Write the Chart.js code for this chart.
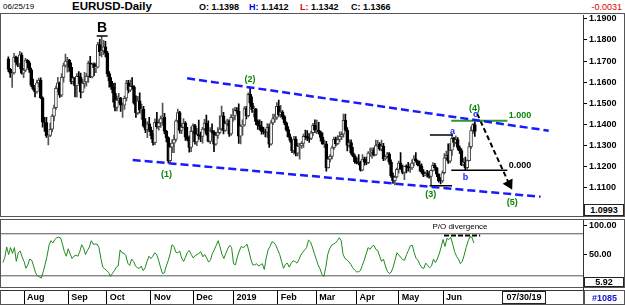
<!DOCTYPE html>
<html>
<head>
<meta charset="utf-8">
<script src="https://cdn.jsdelivr.net/npm/chart.js@4/dist/chart.umd.min.js"></script>
<style>
  body { margin: 0; background: #fff; font-family: "Liberation Sans", Arial, sans-serif; }
  #wrap { position: relative; width: 625px; height: 305px; overflow: hidden; }
  .hdr { position: absolute; top: 1px; font-size: 9px; font-weight: bold; line-height: 12px; white-space: nowrap; color: #000; }
  .frame { position: absolute; border: 1px solid #555; box-sizing: border-box; }
  .box { position: absolute; border: 1px solid #222; box-sizing: border-box; background: #fff;
         font-size: 9px; font-weight: bold; text-align: center; line-height: 10px; }
  canvas { position: absolute; left: 0; }
</style>
</head>
<body>
<div id="wrap">
  <div class="hdr" style="left:3px;font-weight:normal;font-size:8px">06/25/19</div>
  <div class="hdr" style="left:72px;top:0;font-size:11.5px;line-height:13px">EURUSD-Daily</div>
  <div class="hdr" style="left:199px">O: 1.1398</div>
  <div class="hdr" style="left:249px"><span style="color:#0000e0">H:</span> 1.1412</div>
  <div class="hdr" style="left:300px"><span style="color:#e00000">L:</span> 1.1342</div>
  <div class="hdr" style="left:351px">C: 1.1366</div>
  <div class="hdr" style="right:3px;color:#e00000;font-weight:normal">-0.0031</div>

  <div class="frame" style="left:0;top:13px;width:625px;height:204px"></div>
  <div class="frame" style="left:0;top:219px;width:625px;height:69px"></div>
  <div class="frame" style="left:0;top:290px;width:625px;height:15px"></div>
  <div class="frame" style="left:583px;top:290px;width:1px;height:15px"></div>

  <canvas id="priceChart" width="625" height="221" style="top:5px"></canvas>
  <canvas id="oscChart" width="625" height="95" style="top:210px"></canvas>

  <div class="box" style="left:584px;top:204px;width:40px;height:12px">1.0993</div>
  <div class="box" style="left:584px;top:277px;width:40px;height:10px;line-height:8px">5.92</div>
  <div class="box" style="left:502px;top:291px;width:44px;height:13px;line-height:11px">07/30/19</div>
  <div class="hdr" style="left:592px;top:292px;color:#1010d0">#1085</div>
</div>

<script>
// daily bars, 17 Jul 2018 .. 25 Jun 2019 (index 0 .. 245)
const opens = [
  1.1711,1.1660,1.1641,1.1643,1.1719,1.1693,1.1686,1.1730,1.1642,1.1657,1.1704,
  1.1691,1.1658,1.1585,1.1567,1.1553,1.1596,1.1610,1.1525,1.1410,1.1408,1.1344,1.1346,1.1376,1.1438,1.1478,1.1570,1.1597,1.1538,1.1622,1.1679,1.1700,1.1705,1.1670,
  1.1602,1.1620,1.1583,1.1627,1.1624,1.1552,1.1594,1.1601,1.1627,1.1690,1.1625,1.1685,1.1667,1.1671,1.1778,1.1745,1.1748,1.1767,1.1738,1.1640,
  1.1604,1.1577,1.1547,1.1479,1.1514,1.1524,1.1490,1.1490,1.1523,1.1595,1.1561,1.1580,1.1577,1.1500,1.1453,1.1511,1.1466,1.1471,1.1392,1.1373,1.1402,1.1371,1.1344,
  1.1312,1.1409,1.1388,1.1406,1.1427,1.1434,1.1366,1.1336,1.1226,1.1291,1.1310,1.1327,1.1416,1.1455,1.1370,1.1385,1.1405,1.1338,1.1328,1.1290,1.1366,1.1393,
  1.1315,1.1350,1.1344,1.1342,1.1377,1.1405,1.1354,1.1318,1.1369,1.1361,1.1305,1.1347,1.1360,1.1377,1.1440,1.1370,1.1403,1.1416,1.1354,1.1432,1.1439,
  1.1466,1.1462,1.1343,1.1391,1.1395,1.1474,1.1440,1.1542,1.1500,1.1469,1.1471,1.1413,1.1394,1.1389,1.1365,1.1364,1.1362,1.1385,1.1305,1.1406,1.1427,1.1432,1.1485,
  1.1445,1.1457,1.1436,1.1406,1.1374,1.1340,1.1323,1.1274,1.1328,1.1262,1.1295,1.1296,1.1309,1.1342,1.1341,1.1336,1.1332,1.1359,1.1395,1.1371,
  1.1372,1.1364,1.1337,1.1306,1.1306,1.1193,1.1234,1.1247,1.1288,1.1328,1.1307,1.1327,1.1342,1.1352,1.1418,1.1372,1.1299,1.1313,1.1264,1.1248,1.1222,
  1.1217,1.1215,1.1181,1.1234,1.1219,1.1217,1.1262,1.1265,1.1275,1.1254,1.1298,1.1304,1.1281,1.1296,1.1235,1.1245,1.1259,1.1220,1.1154,1.1131,1.1149,1.1185,
  1.1215,1.1189,1.1171,1.1201,1.1198,1.1192,1.1192,1.1215,1.1235,1.1224,1.1206,1.1202,1.1174,1.1157,1.1165,1.1161,1.1152,1.1180,1.1204,1.1192,1.1162,1.1131,1.1130,
  1.1169,1.1240,1.1252,1.1224,1.1276,1.1333,1.1313,1.1327,1.1289,1.1274,1.1208,1.1219,1.1193,1.1227,1.1293,1.1370,1.1398
];
const highs = [
  1.1720,1.1665,1.1647,1.1737,1.1723,1.1719,1.1746,1.1739,1.1665,1.1713,1.1707,
  1.1700,1.1666,1.1614,1.1572,1.1609,1.1619,1.1620,1.1530,1.1433,1.1432,1.1349,1.1405,1.1445,1.1491,1.1581,1.1623,1.1600,1.1640,1.1690,1.1733,1.1718,1.1708,1.1691,
  1.1626,1.1621,1.1640,1.1650,1.1643,1.1613,1.1646,1.1641,1.1700,1.1722,1.1690,1.1692,1.1690,1.1789,1.1803,1.1815,1.1798,1.1794,1.1746,1.1650,
  1.1621,1.1594,1.1595,1.1535,1.1547,1.1528,1.1500,1.1534,1.1608,1.1608,1.1609,1.1621,1.1583,1.1535,1.1532,1.1549,1.1496,1.1485,1.1426,1.1412,1.1433,1.1386,1.1357,
  1.1425,1.1456,1.1422,1.1440,1.1500,1.1451,1.1371,1.1340,1.1309,1.1327,1.1348,1.1421,1.1472,1.1461,1.1403,1.1427,1.1412,1.1385,1.1344,1.1387,1.1402,1.1399,
  1.1380,1.1419,1.1362,1.1385,1.1423,1.1443,1.1416,1.1384,1.1402,1.1370,1.1362,1.1384,1.1440,1.1486,1.1456,1.1415,1.1424,1.1421,1.1446,1.1474,1.1480,
  1.1479,1.1497,1.1397,1.1420,1.1484,1.1485,1.1549,1.1570,1.1530,1.1486,1.1475,1.1420,1.1420,1.1414,1.1385,1.1377,1.1403,1.1400,1.1417,1.1448,1.1448,1.1502,1.1514,
  1.1489,1.1465,1.1441,1.1411,1.1388,1.1353,1.1325,1.1342,1.1341,1.1310,1.1309,1.1317,1.1353,1.1372,1.1370,1.1355,1.1367,1.1404,1.1420,1.1419,
  1.1409,1.1367,1.1359,1.1324,1.1318,1.1246,1.1256,1.1296,1.1339,1.1338,1.1346,1.1363,1.1364,1.1448,1.1448,1.1384,1.1325,1.1326,1.1290,1.1256,1.1240,
  1.1255,1.1224,1.1255,1.1244,1.1243,1.1270,1.1286,1.1287,1.1288,1.1324,1.1323,1.1313,1.1324,1.1309,1.1250,1.1266,1.1265,1.1230,1.1169,1.1153,1.1191,1.1224,
  1.1265,1.1206,1.1201,1.1207,1.1219,1.1212,1.1230,1.1251,1.1265,1.1228,1.1225,1.1212,1.1184,1.1173,1.1180,1.1176,1.1183,1.1217,1.1214,1.1195,1.1164,1.1146,1.1178,
  1.1260,1.1272,1.1306,1.1309,1.1348,1.1337,1.1345,1.1336,1.1297,1.1283,1.1237,1.1244,1.1230,1.1313,1.1387,1.1403,1.1412
];
const lows = [
  1.1650,1.1622,1.1575,1.1637,1.1680,1.1673,1.1663,1.1637,1.1621,1.1649,1.1667,
  1.1646,1.1578,1.1562,1.1530,1.1547,1.1578,1.1521,1.1386,1.1365,1.1337,1.1301,1.1341,1.1363,1.1417,1.1470,1.1552,1.1527,1.1531,1.1600,1.1671,1.1647,1.1651,1.1591,
  1.1590,1.1530,1.1528,1.1592,1.1525,1.1550,1.1571,1.1581,1.1598,1.1621,1.1620,1.1631,1.1645,1.1667,1.1726,1.1720,1.1730,1.1720,1.1627,1.1576,
  1.1565,1.1504,1.1463,1.1463,1.1500,1.1460,1.1432,1.1470,1.1510,1.1548,1.1555,1.1567,1.1495,1.1432,1.1446,1.1452,1.1422,1.1386,1.1360,1.1336,1.1364,1.1330,1.1300,
  1.1303,1.1380,1.1372,1.1385,1.1394,1.1354,1.1316,1.1216,1.1220,1.1265,1.1265,1.1318,1.1406,1.1357,1.1355,1.1382,1.1323,1.1320,1.1267,1.1269,1.1355,1.1305,
  1.1298,1.1328,1.1317,1.1310,1.1368,1.1348,1.1316,1.1307,1.1355,1.1269,1.1300,1.1332,1.1354,1.1370,1.1354,1.1365,1.1393,1.1342,1.1347,1.1413,1.1420,
  1.1450,1.1309,1.1306,1.1348,1.1390,1.1425,1.1434,1.1483,1.1456,1.1434,1.1398,1.1375,1.1372,1.1353,1.1352,1.1339,1.1337,1.1289,1.1300,1.1398,1.1410,1.1422,1.1437,
  1.1432,1.1424,1.1397,1.1367,1.1338,1.1314,1.1264,1.1257,1.1249,1.1249,1.1234,1.1285,1.1289,1.1327,1.1322,1.1313,1.1326,1.1346,1.1360,1.1355,
  1.1352,1.1319,1.1304,1.1288,1.1176,1.1191,1.1220,1.1235,1.1280,1.1296,1.1302,1.1315,1.1326,1.1338,1.1367,1.1273,1.1289,1.1256,1.1244,1.1213,1.1211,
  1.1206,1.1176,1.1179,1.1205,1.1207,1.1212,1.1247,1.1238,1.1249,1.1251,1.1293,1.1275,1.1273,1.1226,1.1229,1.1241,1.1210,1.1147,1.1118,1.1111,1.1145,1.1167,
  1.1185,1.1164,1.1136,1.1168,1.1177,1.1171,1.1185,1.1201,1.1221,1.1201,1.1177,1.1166,1.1151,1.1154,1.1148,1.1143,1.1107,1.1176,1.1181,1.1151,1.1124,1.1116,1.1123,
  1.1163,1.1230,1.1213,1.1216,1.1252,1.1294,1.1306,1.1278,1.1261,1.1203,1.1201,1.1181,1.1187,1.1225,1.1283,1.1355,1.1342
];
const closes = [
  1.1660,1.1641,1.1643,1.1719,1.1693,1.1686,1.1730,1.1642,1.1657,1.1704,1.1691,
  1.1658,1.1585,1.1567,1.1553,1.1596,1.1610,1.1525,1.1410,1.1408,1.1344,1.1346,1.1376,1.1438,1.1478,1.1570,1.1597,1.1538,1.1622,1.1679,1.1700,1.1705,1.1670,1.1602,
  1.1620,1.1583,1.1627,1.1624,1.1552,1.1594,1.1601,1.1627,1.1690,1.1625,1.1685,1.1667,1.1671,1.1778,1.1745,1.1748,1.1767,1.1738,1.1640,1.1604,
  1.1577,1.1547,1.1479,1.1514,1.1524,1.1490,1.1490,1.1523,1.1595,1.1561,1.1580,1.1577,1.1500,1.1453,1.1511,1.1466,1.1471,1.1392,1.1373,1.1402,1.1371,1.1344,1.1312,
  1.1409,1.1388,1.1406,1.1427,1.1434,1.1366,1.1336,1.1226,1.1291,1.1310,1.1327,1.1416,1.1455,1.1370,1.1385,1.1405,1.1338,1.1328,1.1290,1.1366,1.1393,1.1315,
  1.1350,1.1344,1.1342,1.1377,1.1405,1.1354,1.1318,1.1369,1.1361,1.1305,1.1347,1.1360,1.1377,1.1440,1.1370,1.1403,1.1416,1.1354,1.1432,1.1439,1.1466,
  1.1462,1.1343,1.1391,1.1395,1.1474,1.1440,1.1542,1.1500,1.1469,1.1471,1.1413,1.1394,1.1389,1.1365,1.1364,1.1362,1.1385,1.1305,1.1406,1.1427,1.1432,1.1485,1.1445,
  1.1457,1.1436,1.1406,1.1374,1.1340,1.1323,1.1274,1.1328,1.1262,1.1295,1.1296,1.1309,1.1342,1.1341,1.1336,1.1332,1.1359,1.1395,1.1371,1.1372,
  1.1364,1.1337,1.1306,1.1306,1.1193,1.1234,1.1247,1.1288,1.1328,1.1307,1.1327,1.1342,1.1352,1.1418,1.1372,1.1299,1.1313,1.1264,1.1248,1.1222,1.1217,
  1.1215,1.1181,1.1234,1.1219,1.1217,1.1262,1.1265,1.1275,1.1254,1.1298,1.1304,1.1281,1.1296,1.1235,1.1245,1.1259,1.1220,1.1154,1.1131,1.1149,1.1185,1.1215,
  1.1189,1.1171,1.1201,1.1198,1.1192,1.1192,1.1215,1.1235,1.1224,1.1206,1.1202,1.1174,1.1157,1.1165,1.1161,1.1152,1.1180,1.1204,1.1192,1.1162,1.1131,1.1130,1.1169,
  1.1240,1.1252,1.1224,1.1276,1.1333,1.1313,1.1327,1.1289,1.1274,1.1208,1.1219,1.1193,1.1227,1.1293,1.1370,1.1398,1.1366
];
// lower panel oscillator, one value per bar
const oscValues = [
  36,45,63,50,62,52,62,38,53,56, 46,38,26,32,42,40,30,18,13,11,
  9,20,33,47,66,74,70,76,79,80, 79,68,55,47,60,51,43,47,49,47,
  55,67,61,50,57,63,74,68,68,68, 62,43,28,25,22,19,12,17,22,28,
  30,58,53,52,48,35,31,42,38,30, 27,26,30,22,27,38,47,43,47,53,
  50,40,28,17,18,30,39,51,67,64, 54,53,56,44,38,45,54,57,50,44,
  48,50,52,55,46,50,44,37,40,52, 58,66,74,63,50,43,52,60,66,62,
  34,32,46,56,64,62,64,68,56,42, 32,32,34,30,32,34,24,44,58,64,
  72,71,66,58,50,38,26,33,35,28, 35,39,38,35,41,49,54,58,62,75,
  72,63,52,42,32,25,15,12,28,50, 60,66,68,70,74,79,74,50,43,41,
  37,33,27,23,20,20,22,31,40,51, 62,59,64,66,59,57,47,38,42,30,
  21,17,19,28,40,53,49,45,41,40, 50,57,65,66,53,43,40,32,27,26,
  35,31,27,30,42,36,42,51,63,76, 64,78,76,80,68,55,47,42,34,38,
  49,62,73,81,80,70
];
const oscLevels = [86, 13];
const oscTicks = [50, 100];

const monthLabels = ["Aug", "Sep", "Oct", "Nov", "Dec", "2019", "Feb", "Mar", "Apr", "May", "Jun"];
const monthStarts = [11, 34, 54, 77, 99, 120, 143, 163, 184, 206, 229];
const priceTicks = [1.11, 1.12, 1.13, 1.14, 1.15, 1.16, 1.17, 1.18, 1.19];

// drawn studies: channel, wave count, fib levels
const upperChannel = [{ x: 93.9, y: 1.1618 }, { x: 283.8, y: 1.1369 }];
const lowerChannel = [{ x: 65.3, y: 1.1230 }, { x: 279.5, y: 1.1055 }];
const fibOne = [{ x: 232.6, y: 1.1416 }, { x: 262.1, y: 1.1416 }];
const fibZero = [{ x: 232.6, y: 1.1181 }, { x: 262.1, y: 1.1181 }];
const waveALine = [{ x: 221.4, y: 1.1348 }, { x: 233.5, y: 1.1348 }];
const wave3Line = [{ x: 221.2, y: 1.1107 }, { x: 233.0, y: 1.1107 }];
const projArrow = [{ x: 246.2, y: 1.1450 }, { x: 263.0, y: 1.1116 }];
const bUnderline = [{ x: 46.4, y: 1.1819 }, { x: 52.1, y: 1.1819 }];
const divergence = [{ x: 229.5, y: 83 }, { x: 248.3, y: 83 }];

const GREEN = "#0a850a";
const BLUE = "#1a1aff";
const FONT = '"Liberation Sans", Arial, sans-serif';

const waveLabels = [
  { text: "B", x: 49.2, y: 1.1857, color: "#000", font: "bold 14px " + FONT },
  { text: "(1)", x: 83.0, y: 1.1159, color: GREEN },
  { text: "(2)", x: 126.9, y: 1.1610, color: GREEN },
  { text: "(3)", x: 221.9, y: 1.1064, color: GREEN },
  { text: "(4)", x: 244.8, y: 1.1472, color: GREEN },
  { text: "(5)", x: 264.7, y: 1.1027, color: GREEN },
  { text: "a", x: 233.2, y: 1.1365, color: BLUE },
  { text: "b", x: 240.1, y: 1.1147, color: BLUE },
  { text: "c", x: 245.3, y: 1.1448, color: BLUE },
  { text: "1.000", x: 262.8, y: 1.1440, color: GREEN, align: "left" },
  { text: "0.000", x: 262.8, y: 1.1203, color: "#000", align: "left" }
];
const oscLabels = [
  { text: "P/O divergence", x: 237.8, y: 97.5, color: "#000", font: "8px " + FONT }
];

const xMin = -0.97;
const xMax = 301.8;

const textLabels = {
  id: "textLabels",
  afterDatasetsDraw(chart, args, opts) {
    const { ctx, scales } = chart;
    ctx.save();
    opts.items.forEach(t => {
      ctx.font = t.font || "bold 9px " + FONT;
      ctx.fillStyle = t.color;
      ctx.textAlign = t.align || "center";
      ctx.textBaseline = "middle";
      ctx.fillText(t.text, scales.x.getPixelForValue(t.x), scales.y.getPixelForValue(t.y));
    });
    ctx.restore();
  }
};

function segment(points, color, width, dash) {
  return {
    type: "line",
    data: points,
    borderColor: color,
    borderWidth: width,
    borderDash: dash || [],
    pointRadius: 0,
    order: 0
  };
}

function axisFont() {
  return { family: FONT, size: 9, weight: "bold" };
}

const isUp = closes.map((c, i) => c >= opens[i]);

new Chart(document.getElementById("priceChart"), {
  type: "bar",
  data: {
    datasets: [
      {
        data: lows.map((l, i) => ({ x: i, y: [l, highs[i]] })),
        backgroundColor: isUp.map(u => (u ? "#555" : "#000")),
        barThickness: 1,
        grouped: false,
        order: 3
      },
      {
        data: opens.map((o, i) => ({ x: i, y: [o, closes[i]] })),
        backgroundColor: isUp.map(u => (u ? "#fff" : "#000")),
        borderColor: isUp.map(u => (u ? "#444" : "#000")),
        borderWidth: 1,
        borderSkipped: false,
        barThickness: 3,
        grouped: false,
        order: 2
      },
      segment(upperChannel, BLUE, 2.5, [8, 4]),
      segment(lowerChannel, BLUE, 2.5, [8, 4]),
      segment(fibOne, "#2a9a2a", 2),
      segment(fibZero, "#000", 1.5),
      segment(waveALine, "#000", 1.5),
      segment(wave3Line, "#000", 1.5),
      segment(bUnderline, "#000", 1.5),
      Object.assign(segment(projArrow, "#000", 2, [5, 3]), {
        pointRadius: [0, 4.5],
        pointStyle: "triangle",
        pointRotation: 152,
        pointBackgroundColor: "#000",
        pointBorderColor: "#000"
      })
    ]
  },
  options: {
    responsive: false,
    animation: false,
    layout: { padding: { left: 1, right: 0, top: 10, bottom: 10 } },
    plugins: {
      legend: { display: false },
      tooltip: { enabled: false },
      textLabels: { items: waveLabels }
    },
    scales: {
      x: { type: "linear", min: xMin, max: xMax, offset: false, display: false },
      y: {
        position: "right",
        min: 1.09635,
        max: 1.19188,
        afterBuildTicks: s => { s.ticks = priceTicks.map(v => ({ value: v })); },
        afterFit: s => { s.width = 42; },
        grid: { drawOnChartArea: false, tickLength: 4, color: "#000" },
        border: { color: "#333" },
        ticks: { padding: 2, color: "#000", font: axisFont(), callback: v => v.toFixed(4) }
      }
    }
  },
  plugins: [textLabels]
});

new Chart(document.getElementById("oscChart"), {
  type: "line",
  data: {
    datasets: [
      {
        data: oscValues.map((v, i) => ({ x: i, y: v })),
        borderColor: "#1f8a1f",
        borderWidth: 1,
        pointRadius: 0,
        tension: 0,
        order: 1
      },
      segment([{ x: xMin, y: oscLevels[0] }, { x: xMax, y: oscLevels[0] }], "#555", 1),
      segment([{ x: xMin, y: oscLevels[1] }, { x: xMax, y: oscLevels[1] }], "#555", 1),
      segment(divergence, "#000", 2, [5, 2])
    ]
  },
  options: {
    responsive: false,
    animation: false,
    layout: { padding: { left: 1, right: 0, top: 10, bottom: 1 } },
    plugins: {
      legend: { display: false },
      tooltip: { enabled: false },
      textLabels: { items: oscLabels }
    },
    scales: {
      x: {
        type: "linear",
        min: xMin,
        max: xMax,
        offset: false,
        afterBuildTicks: s => { s.ticks = monthStarts.map(v => ({ value: v })); },
        afterFit: s => { s.height = 14; },
        grid: { drawOnChartArea: false, tickLength: 14, color: "#000" },
        border: { color: "#333" },
        ticks: {
          align: "start",
          labelOffset: 3,
          padding: -12,
          autoSkip: false,
          maxRotation: 0,
          color: "#000",
          font: axisFont(),
          callback: (v, i) => monthLabels[i]
        }
      },
      y: {
        position: "right",
        min: -11.63,
        max: 109.9,
        afterBuildTicks: s => { s.ticks = oscTicks.map(v => ({ value: v })); },
        afterFit: s => { s.width = 42; },
        grid: { drawOnChartArea: false, tickLength: 4, color: "#000" },
        border: { color: "#333" },
        ticks: { padding: 2, color: "#000", font: axisFont(), callback: v => v.toFixed(2) }
      }
    }
  },
  plugins: [textLabels]
});
</script>
</body>
</html>
